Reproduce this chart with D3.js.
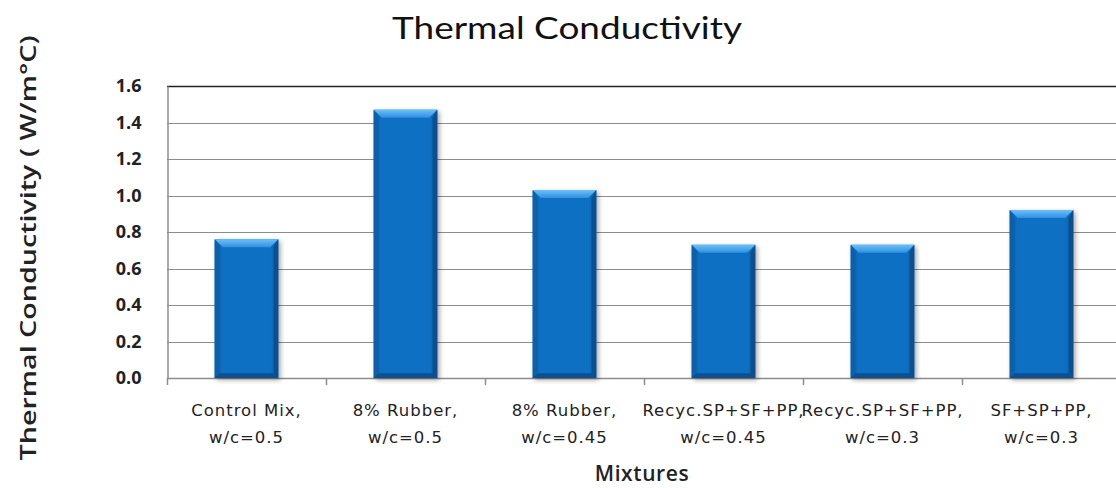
<!DOCTYPE html>
<html>
<head>
<meta charset="utf-8">
<script src="https://cdn.jsdelivr.net/npm/d3@7/dist/d3.min.js"></script>
<style>
  html, body { margin: 0; padding: 0; background: #fff; }
  svg { display: block; }
</style>
</head>
<body>
<svg id="chart" width="1116" height="488"></svg>
<script>
// Thermal conductivity of each concrete mixture
const categories = [
  ["Control Mix,", "w/c=0.5"],
  ["8% Rubber,", "w/c=0.5"],
  ["8% Rubber,", "w/c=0.45"],
  ["Recyc.SP+SF+PP,", "w/c=0.45"],
  ["Recyc.SP+SF+PP,", "w/c=0.3"],
  ["SF+SP+PP,", "w/c=0.3"]
];
const values = [0.76, 1.47, 1.03, 0.73, 0.73, 0.92];
const yTicks = [0.0, 0.2, 0.4, 0.6, 0.8, 1.0, 1.2, 1.4, 1.6];

const svg = d3.select("#chart");
const plotLeft = 167, plotRight = 1121, plotTop = 86, plotBottom = 378;

const x = d3.scaleBand()
  .domain(d3.range(categories.length))
  .range([plotLeft, plotRight])
  .paddingInner(0.6)
  .paddingOuter(0.3);
const xEdge = d3.scaleLinear().domain([0, categories.length]).range([plotLeft, plotRight]);
const y = d3.scaleLinear().domain([0, 1.6]).range([plotBottom, plotTop]);

const defs = svg.append("defs");
const g1 = defs.append("linearGradient").attr("id", "barFace").attr("x1", 0).attr("x2", 1).attr("y1", 0).attr("y2", 0);
g1.append("stop").attr("offset", "0").attr("stop-color", "#0a5aa3");
g1.append("stop").attr("offset", "0.12").attr("stop-color", "#0b70c3");
g1.append("stop").attr("offset", "0.88").attr("stop-color", "#0b70c3");
g1.append("stop").attr("offset", "1").attr("stop-color", "#0a5aa3");
const gTop = defs.append("linearGradient").attr("id", "barTop").attr("x1", 0).attr("x2", 0).attr("y1", 0).attr("y2", 1);
gTop.append("stop").attr("offset", "0").attr("stop-color", "#6cc0f8");
gTop.append("stop").attr("offset", "1").attr("stop-color", "#2e8fe0");
const shadow = defs.append("filter").attr("id", "shadow").attr("x", "-20%").attr("y", "-10%").attr("width", "140%").attr("height", "120%");
shadow.append("feGaussianBlur").attr("in", "SourceAlpha").attr("stdDeviation", 2.5).attr("result", "b");
shadow.append("feOffset").attr("in", "b").attr("dx", 2).attr("dy", 2).attr("result", "o");
shadow.append("feComponentTransfer").attr("in", "o").attr("result", "s")
  .append("feFuncA").attr("type", "linear").attr("slope", 0.35);
const merge = shadow.append("feMerge");
merge.append("feMergeNode").attr("in", "s");
merge.append("feMergeNode").attr("in", "SourceGraphic");

// Gridlines
svg.append("g").selectAll("line").data(yTicks.slice(1)).join("line")
  .attr("x1", plotLeft).attr("x2", plotRight)
  .attr("y1", d => Math.round(y(d)) + 0.5).attr("y2", d => Math.round(y(d)) + 0.5)
  .attr("stroke", d => d === 1.6 ? "#222" : "#8c8c8c")
  .attr("stroke-width", d => d === 1.6 ? 1.6 : 1.2);

// Y axis
const yAxis = svg.append("g").attr("transform", `translate(${plotLeft + 0.5},0)`)
  .call(d3.axisLeft(y).tickValues(yTicks).tickFormat(d3.format(".1f")).tickSize(0).tickPadding(26));
yAxis.select(".domain").attr("stroke", "#8c8c8c").attr("stroke-width", 1.5);
yAxis.selectAll("text")
  .attr("font-family", "'Open Sans', sans-serif")
  .attr("font-weight", "bold").attr("font-size", 18).attr("fill", "#222");

// X axis line and category boundary ticks
const xg = svg.append("g");
xg.append("line").attr("x1", plotLeft).attr("x2", plotRight)
  .attr("y1", plotBottom + 0.5).attr("y2", plotBottom + 0.5)
  .attr("stroke", "#8c8c8c").attr("stroke-width", 1.5);
xg.selectAll("line.tk").data(d3.range(categories.length + 1)).join("line").attr("class", "tk")
  .attr("x1", d => Math.round(xEdge(d)) + 0.5).attr("x2", d => Math.round(xEdge(d)) + 0.5)
  .attr("y1", plotBottom).attr("y2", plotBottom + 7)
  .attr("stroke", "#8c8c8c").attr("stroke-width", 1.5);

// Bars with bevelled edges
const bars = svg.append("g").selectAll("g").data(values).join("g").attr("filter", "url(#shadow)");
const bev = 8;
bars.append("rect")
  .attr("x", (d, i) => x(i)).attr("width", x.bandwidth())
  .attr("y", d => y(d)).attr("height", d => y(0) - y(d))
  .attr("fill", "url(#barFace)");
bars.append("path")
  .attr("d", (d, i) => {
    const x0 = x(i), x1 = x(i) + x.bandwidth(), yt = y(d);
    return `M${x0},${yt}L${x1},${yt}L${x1 - bev},${yt + bev}L${x0 + bev},${yt + bev}Z`;
  })
  .attr("fill", "url(#barTop)");
bars.append("path")
  .attr("d", (d, i) => {
    const x0 = x(i), yt = y(d), yb = y(0);
    return `M${x0},${yt}L${x0 + bev * 0.6},${yt + bev}L${x0 + bev * 0.6},${yb - bev * 0.6}L${x0},${yb}Z`;
  })
  .attr("fill", "#0a5ea8");
bars.append("path")
  .attr("d", (d, i) => {
    const x1 = x(i) + x.bandwidth(), yt = y(d), yb = y(0);
    return `M${x1},${yt}L${x1 - bev * 0.6},${yt + bev}L${x1 - bev * 0.6},${yb - bev * 0.6}L${x1},${yb}Z`;
  })
  .attr("fill", "#0a4f8e");
bars.append("path")
  .attr("d", (d, i) => {
    const x0 = x(i), x1 = x(i) + x.bandwidth(), yb = y(0);
    return `M${x0},${yb}L${x1},${yb}L${x1 - bev * 0.6},${yb - bev * 0.6}L${x0 + bev * 0.6},${yb - bev * 0.6}Z`;
  })
  .attr("fill", "#08508f");

// Category labels
const lab = svg.append("g").selectAll("text").data(categories).join("text")
  .attr("text-anchor", "middle")
  .attr("font-family", "'DejaVu Sans', sans-serif")
  .attr("font-size", 16.5).attr("letter-spacing", 1).attr("fill", "#222");
lab.each(function (d, i) {
  const t = d3.select(this);
  d.forEach((line, k) => {
    t.append("tspan").attr("x", x(i) + x.bandwidth() / 2).attr("y", 416 + k * 27).text(line);
  });
});

// Titles
svg.append("text").attr("x", 567).attr("y", 39).attr("text-anchor", "middle")
  .attr("font-family", "Lato, 'Open Sans', sans-serif").attr("font-size", 31)
  .attr("textLength", 350).attr("lengthAdjust", "spacingAndGlyphs")
  .attr("fill", "#111").text("Thermal Conductivity");
svg.append("text").attr("x", 642).attr("y", 481).attr("text-anchor", "middle")
  .attr("font-family", "'Open Sans', sans-serif").attr("font-weight", 600).attr("font-size", 21)
  .attr("letter-spacing", 0.6)
  .attr("fill", "#222").text("Mixtures");
svg.append("text")
  .attr("transform", "translate(36,248) rotate(-90)")
  .attr("text-anchor", "middle")
  .attr("font-family", "'Open Sans', sans-serif").attr("font-weight", 600).attr("font-size", 22)
  .attr("textLength", 425).attr("lengthAdjust", "spacingAndGlyphs")
  .attr("fill", "#222").text("Thermal Conductivity  ( W/m\u00B0C)");
</script>
</body>
</html>
